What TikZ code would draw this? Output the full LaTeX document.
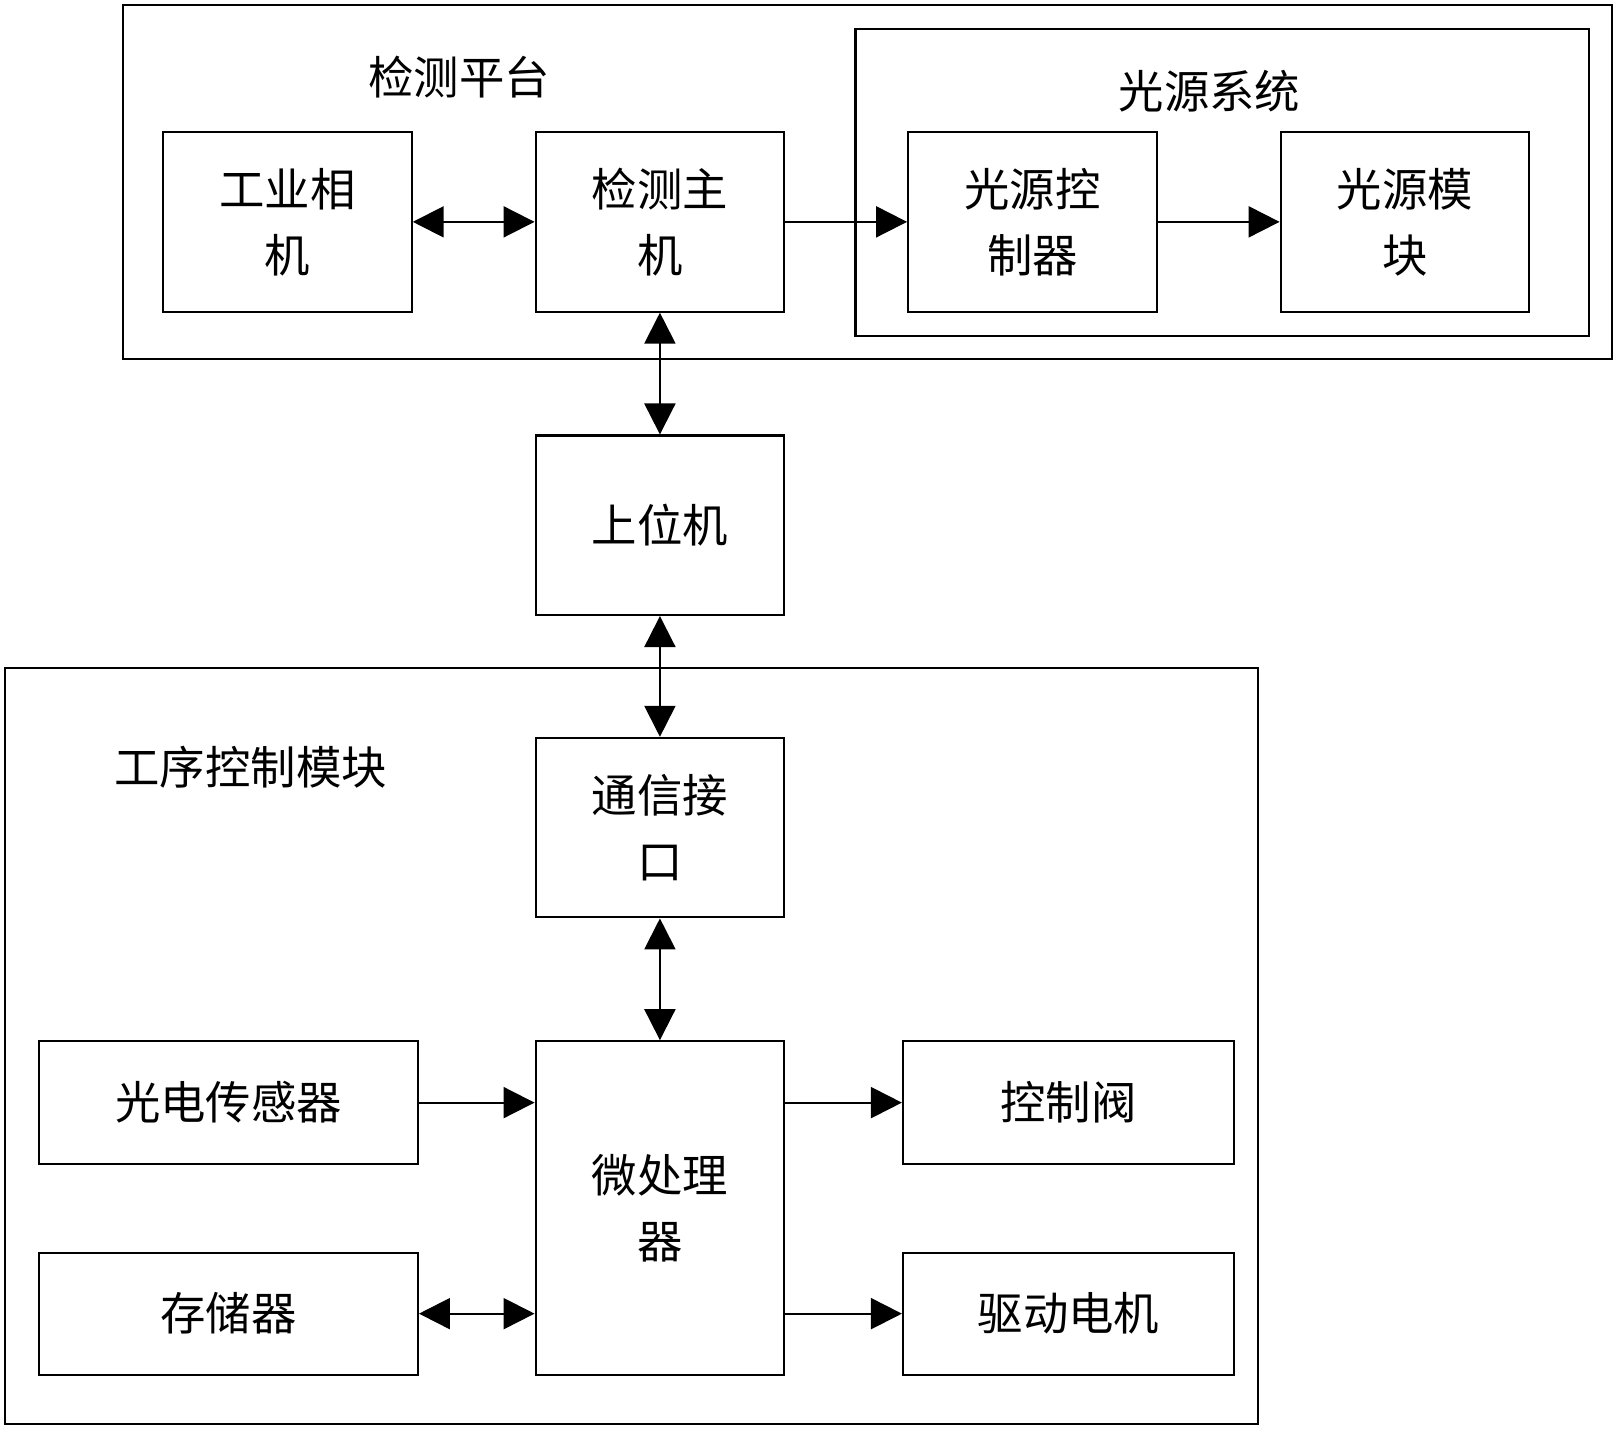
\documentclass[tikz,border=0pt]{standalone}
\usepackage{fontspec}
\newfontfamily\cjk{Noto Sans CJK SC}
\usetikzlibrary{arrows.meta}
\begin{document}
\begin{tikzpicture}[x=1pt,y=-1pt,
  box/.style={draw,line width=2pt,align=center,font=\cjk\fontsize{44}{64}\selectfont},
  lbl/.style={font=\cjk\fontsize{44}{64}\selectfont},
  arr/.style={line width=2pt,-{Triangle[length=30pt,width=30pt]}},
  darr/.style={line width=2pt,{Triangle[length=30pt,width=30pt]}-{Triangle[length=30pt,width=30pt]}}]
\useasboundingbox (0,0) rectangle (1566,1386);
\draw[line width=2pt] (119,5) rectangle (1562,348);
\draw[line width=2pt] (829,28) rectangle (1540,326);
\draw[line width=2pt] (5,647) rectangle (1219,1380);
\node[lbl] (t1) at (445,75) {检测平台};
\node[lbl] (t2) at (1172,88) {光源系统};
\node[lbl] (t3) at (243,743) {工序控制模块};
\newcommand\bx[6]{\node[box,minimum width=#4-#2,minimum height=#5-#3] (#1) at ({(#2+#4)/2},{(#3+#5)/2}) {#6};}
\bx{cam}{158}{128}{399}{302}{工业相\\机}
\bx{host}{519}{128}{760}{302}{检测主\\机}
\bx{lc}{880}{128}{1121}{302}{光源控\\制器}
\bx{lm}{1241}{128}{1482}{302}{光源模\\块}
\bx{pc}{519}{422}{760}{596}{上位机}
\bx{com}{519}{715}{760}{889}{通信接\\口}
\bx{mcu}{519}{1009}{760}{1332}{微处理\\器}
\bx{ps}{38}{1009}{405}{1128}{光电传感器}
\bx{mem}{38}{1214}{405}{1332}{存储器}
\bx{cv}{875}{1009}{1196}{1128}{控制阀}
\bx{dm}{875}{1214}{1196}{1332}{驱动电机}
\draw[darr] (cam.east) -- (host.west);
\draw[arr] (host.east) -- (lc.west);
\draw[arr] (lc.east) -- (lm.west);
\draw[darr] (host.south) -- (pc.north);
\draw[darr] (pc.south) -- (com.north);
\draw[darr] (com.south) -- (mcu.north);
\draw[arr] (ps.east) -- (ps.east -| mcu.west);
\draw[darr] (mem.east) -- (mem.east -| mcu.west);
\draw[arr] (cv.west -| mcu.east) -- (cv.west);
\draw[arr] (dm.west -| mcu.east) -- (dm.west);
\end{tikzpicture}
\end{document}
